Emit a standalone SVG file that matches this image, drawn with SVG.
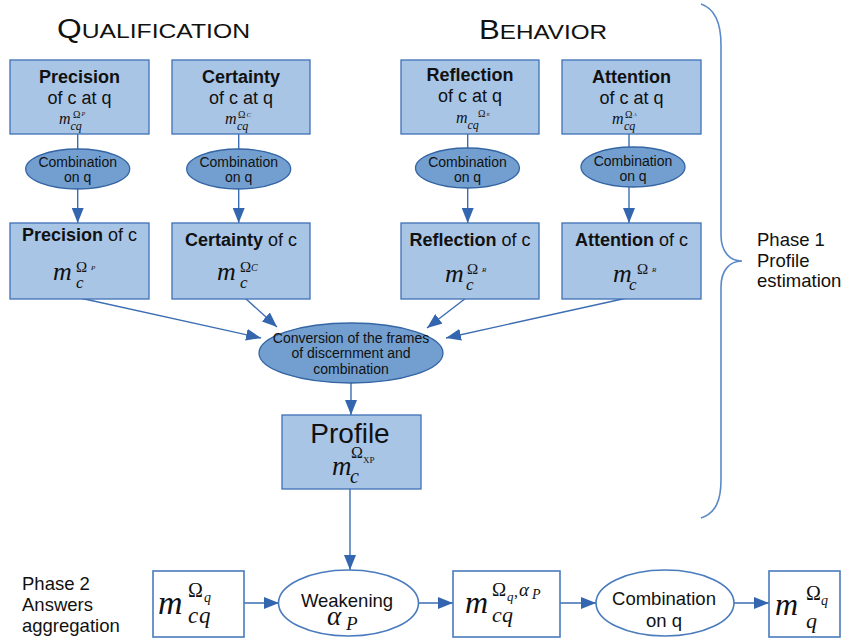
<svg xmlns="http://www.w3.org/2000/svg" width="849" height="642" viewBox="0 0 849 642">
<style>
text{font-family:"Liberation Sans",Arial,sans-serif;fill:#111}
.box{fill:#a9c5e6;stroke:#3e70b6;stroke-width:1.3}
.ell{fill:#729fcf;stroke:#3465a4;stroke-width:1.3}
.wbox{fill:#fff;stroke:#4a7bbd;stroke-width:1.6}
.con{stroke:#3b6db3;stroke-width:1.4;fill:none}
.arr{marker-end:url(#ah)}
.b{font-weight:bold}
.mi{font-family:"Liberation Serif","Times New Roman",serif;font-style:italic}
.mr{font-family:"Liberation Serif","Times New Roman",serif}
.t18{font-size:18px}
.t14{font-size:14px}
.c{text-anchor:middle}
</style>
<defs>
<marker id="ah" markerUnits="userSpaceOnUse" markerWidth="15" markerHeight="12" refX="15" refY="6" orient="auto">
<path d="M0,0 L15,6 L0,12 z" fill="#3466b0"/>
</marker>
</defs>

<g id="titles">
<text x="57" y="38" font-size="27" textLength="193" lengthAdjust="spacingAndGlyphs">Q<tspan font-size="21">UALIFICATION</tspan></text>
<text x="479" y="39" font-size="27" textLength="128" lengthAdjust="spacingAndGlyphs">B<tspan font-size="21">EHAVIOR</tspan></text>
</g>

<g id="connectors">
<line class="con" x1="77.7" y1="134" x2="77.7" y2="149"/>
<line class="con" x1="238.7" y1="134" x2="238.7" y2="149"/>
<line class="con" x1="467.7" y1="134" x2="467.7" y2="148"/>
<line class="con" x1="629" y1="134" x2="629" y2="147"/>
<line class="con arr" x1="77.7" y1="189" x2="77.7" y2="223"/>
<line class="con arr" x1="238.7" y1="189" x2="238.7" y2="223"/>
<line class="con arr" x1="467.7" y1="188" x2="467.7" y2="223"/>
<line class="con arr" x1="629" y1="187" x2="629" y2="223"/>
<line class="con arr" x1="80" y1="298" x2="261" y2="338"/>
<line class="con arr" x1="245" y1="298" x2="277" y2="327"/>
<line class="con arr" x1="466" y1="298" x2="427" y2="328"/>
<line class="con arr" x1="627" y1="298" x2="446" y2="338"/>
<line class="con arr" x1="351" y1="383" x2="351" y2="415"/>
<line class="con arr" x1="350" y1="489" x2="350" y2="570"/>
<line class="con arr" x1="244" y1="603" x2="279" y2="603"/>
<line class="con arr" x1="418" y1="603" x2="453" y2="603"/>
<line class="con arr" x1="560" y1="603" x2="596" y2="603"/>
<line class="con arr" x1="734" y1="603" x2="769" y2="603"/>
</g>

<g id="brace">
<path d="M701 4 C716 9 721 25 721 45 L721 235 C721 252 730 261 742 261 C730 261 721 270 721 287 L721 480 C721 500 716 513 701 518" fill="none" stroke="#5b8ac8" stroke-width="1.6"/>
<text x="757" y="246" font-size="18.5">Phase 1</text>
<text x="757" y="267" font-size="18.5">Profile</text>
<text x="757" y="287" font-size="18.5">estimation</text>
</g>

<g id="phase2">
<text x="22" y="590" font-size="18.5">Phase 2</text>
<text x="22" y="611" font-size="18.5">Answers</text>
<text x="22" y="632" font-size="18.5">aggregation</text>
</g>

<!-- top row -->
<g id="precision-cq">
<rect class="box" x="10" y="60" width="139" height="74"/>
<text class="t18 b c" x="79.5" y="83">Precision</text>
<text class="t18 c" x="79.5" y="104">of c at q</text>
<text class="mi" x="59" y="124" font-size="16">m</text>
<text class="mr" x="73" y="118" font-size="10">Ω</text>
<text class="mi" x="81.5" y="116" font-size="6">P</text>
<text class="mi" x="70.5" y="130" font-size="12">cq</text>
</g>
<g id="certainty-cq">
<rect class="box" x="172" y="60" width="138" height="74"/>
<text class="t18 b c" x="241" y="83">Certainty</text>
<text class="t18 c" x="241" y="104">of c at q</text>
<text class="mi" x="225" y="124" font-size="16">m</text>
<text class="mr" x="238" y="118" font-size="10">Ω</text>
<text class="mi" x="246.5" y="117" font-size="7">C</text>
<text class="mi" x="237" y="130" font-size="12">cq</text>
</g>
<g id="reflection-cq">
<rect class="box" x="401" y="60" width="138" height="74"/>
<text class="t18 b c" x="470" y="81">Reflection</text>
<text class="t18 c" x="470" y="102">of c at q</text>
<text class="mi" x="456" y="123" font-size="16">m</text>
<text class="mr" x="478" y="117" font-size="10">Ω</text>
<text class="mi" x="486.5" y="116" font-size="5">R</text>
<text class="mi" x="467.5" y="129" font-size="12">cq</text>
</g>
<g id="attention-cq">
<rect class="box" x="562" y="60" width="139" height="74"/>
<text class="t18 b c" x="631.5" y="83">Attention</text>
<text class="t18 c" x="631.5" y="104">of c at q</text>
<text class="mi" x="612" y="124" font-size="16">m</text>
<text class="mr" x="625" y="118" font-size="10">Ω</text>
<text class="mi" x="633.5" y="116" font-size="5">A</text>
<text class="mi" x="624" y="130" font-size="12">cq</text>
</g>

<!-- combination ellipses -->
<g id="comb-p">
<ellipse class="ell" cx="77.7" cy="169" rx="52" ry="20"/>
<text class="t14 c" x="77.7" y="167">Combination</text>
<text class="t14 c" x="77.7" y="182">on q</text>
</g>
<g id="comb-c">
<ellipse class="ell" cx="238.7" cy="169" rx="52" ry="20"/>
<text class="t14 c" x="238.7" y="167">Combination</text>
<text class="t14 c" x="238.7" y="182">on q</text>
</g>
<g id="comb-r">
<ellipse class="ell" cx="467.5" cy="168" rx="52" ry="20"/>
<text class="t14 c" x="467.5" y="167">Combination</text>
<text class="t14 c" x="467.5" y="182">on q</text>
</g>
<g id="comb-a">
<ellipse class="ell" cx="633" cy="167" rx="52" ry="20"/>
<text class="t14 c" x="633" y="166">Combination</text>
<text class="t14 c" x="633" y="181">on q</text>
</g>

<!-- middle row -->
<g id="precision-c">
<rect class="box" x="10" y="223" width="139" height="76"/>
<text class="t18 c" x="79.5" y="241"><tspan class="b">Precision</tspan> of c</text>
<text class="mi" x="53" y="280" font-size="26">m</text>
<text class="mr" x="76" y="272" font-size="15">Ω</text>
<text class="mi" x="91" y="270" font-size="7">P</text>
<text class="mi" x="76" y="288" font-size="17">c</text>
</g>
<g id="certainty-c">
<rect class="box" x="172" y="223" width="138" height="76"/>
<text class="t18 c" x="241" y="246"><tspan class="b">Certainty</tspan> of c</text>
<text class="mi" x="217" y="280" font-size="26">m</text>
<text class="mr" x="240" y="272" font-size="15">Ω</text>
<text class="mi" x="251" y="271" font-size="10">C</text>
<text class="mi" x="240" y="288" font-size="17">c</text>
</g>
<g id="reflection-c">
<rect class="box" x="401" y="223" width="138" height="76"/>
<text class="t18 c" x="470" y="246"><tspan class="b">Reflection</tspan> of c</text>
<text class="mi" x="445" y="282" font-size="26">m</text>
<text class="mr" x="467" y="274" font-size="15">Ω</text>
<text class="mi" x="482" y="272" font-size="7">R</text>
<text class="mi" x="466" y="290" font-size="17">c</text>
</g>
<g id="attention-c">
<rect class="box" x="562" y="223" width="139" height="76"/>
<text class="t18 c" x="631.5" y="246"><tspan class="b">Attention</tspan> of c</text>
<text class="mi" x="613" y="282" font-size="26">m</text>
<text class="mr" x="637" y="274" font-size="15">Ω</text>
<text class="mi" x="652" y="272" font-size="7">R</text>
<text class="mi" x="629" y="290" font-size="17">c</text>
</g>

<g id="conversion">
<ellipse class="ell" cx="351" cy="353" rx="92" ry="30"/>
<text class="t14 c" x="351" y="343">Conversion of the frames</text>
<text class="t14 c" x="351" y="358">of discernment and</text>
<text class="t14 c" x="351" y="374">combination</text>
</g>

<g id="profile">
<rect class="box" x="282" y="415" width="139" height="74"/>
<text class="c" x="350" y="443" font-size="28">Profile</text>
<text class="mi" x="332" y="475" font-size="27">m</text>
<text class="mr" x="351" y="458" font-size="16">Ω</text>
<text class="mr" x="363" y="463" font-size="9">XP</text>
<text class="mi" x="350" y="483" font-size="20">c</text>
</g>

<!-- bottom row -->
<g id="m-cq">
<rect class="wbox" x="153" y="571" width="91" height="66"/>
<text class="mi" x="158" y="614" font-size="34" fill="#222">m</text>
<text class="mr" x="188" y="597" font-size="20">Ω</text>
<text class="mi" x="204" y="602" font-size="14">q</text>
<text class="mi" x="188" y="623" font-size="23">c</text>
<text class="mi" x="199" y="623" font-size="23">q</text>
</g>
<g id="weakening">
<ellipse cx="348.5" cy="603" rx="70" ry="33" fill="#fff" stroke="#4a7bbd" stroke-width="1.6"/>
<text class="c" x="347" y="607" font-size="18.5">Weakening</text>
<text class="mi" x="327" y="625" font-size="27">α</text>
<text class="mi" x="346" y="630" font-size="19">P</text>
</g>
<g id="m-cq-alpha">
<rect class="wbox" x="453" y="571" width="107" height="66"/>
<text class="mi" x="465" y="613" font-size="32" fill="#222">m</text>
<text class="mr" x="492" y="596" font-size="19">Ω</text>
<text class="mi" x="507" y="601" font-size="13">q</text>
<text class="mr" x="514" y="597" font-size="16">,</text>
<text class="mi" x="519" y="596" font-size="19">α</text>
<text class="mi" x="532" y="599" font-size="14">P</text>
<text class="mi" x="492" y="622" font-size="22">c</text>
<text class="mi" x="502" y="622" font-size="22">q</text>
</g>
<g id="combination-q">
<ellipse cx="665" cy="603" rx="69" ry="33" fill="#fff" stroke="#4a7bbd" stroke-width="1.6"/>
<text class="c" x="664" y="605" font-size="18.5">Combination</text>
<text class="c" x="664" y="627" font-size="18.5">on q</text>
</g>
<g id="m-q">
<rect class="wbox" x="769" y="571" width="71" height="66"/>
<text class="mi" x="775" y="615" font-size="32" fill="#222">m</text>
<text class="mr" x="806" y="600" font-size="20">Ω</text>
<text class="mi" x="821" y="605" font-size="14">q</text>
<text class="mi" x="806" y="628" font-size="22">q</text>
</g>
</svg>
